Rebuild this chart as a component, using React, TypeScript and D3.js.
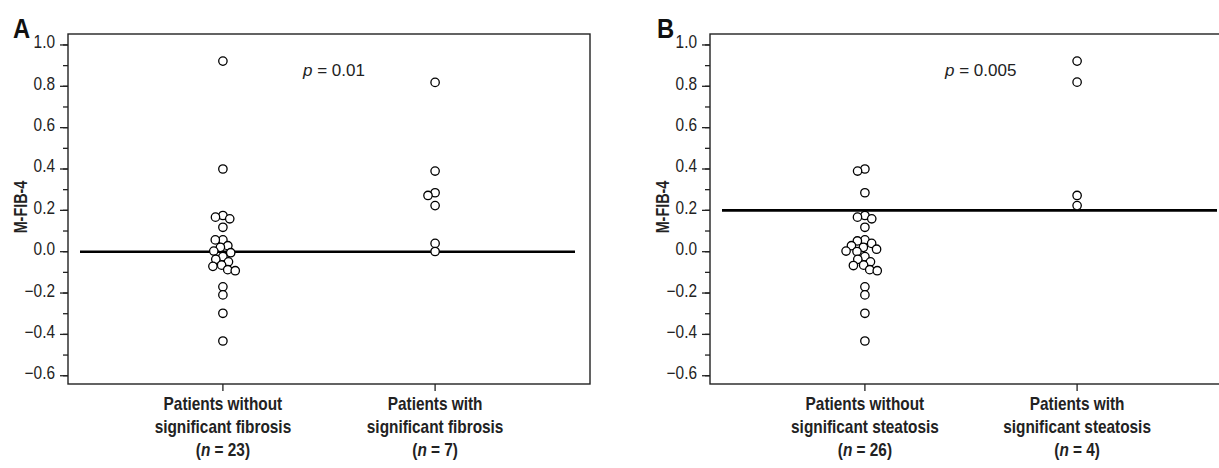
import React, { useRef, useEffect } from "react";
import * as d3 from "d3";

// values
const fibrosisWithout = [
  0.922, 0.4, 0.175, 0.167, 0.159, 0.118, 0.057, 0.057, 0.029, 0.021, 0.003,
  -0.005, -0.024, -0.037, -0.049, -0.065, -0.071, -0.087, -0.092, -0.17, -0.209,
  -0.298, -0.432,
];
const fibrosisWith = [0.819, 0.39, 0.285, 0.272, 0.223, 0.04, 0.001];
const steatosisWithout = [
  0.4, 0.39, 0.285, 0.175, 0.167, 0.159, 0.118, 0.057, 0.052, 0.04, 0.029,
  0.021, 0.012, 0.003, 0.001, -0.024, -0.037, -0.049, -0.065, -0.067, -0.087,
  -0.092, -0.17, -0.209, -0.298, -0.432,
];
const steatosisWith = [0.922, 0.82, 0.272, 0.223];

const panelLetters = ["A", "B"];
const groupLabels = [
  [["Patients without", "significant fibrosis"], ["Patients with", "significant fibrosis"]],
  [["Patients without", "significant steatosis"], ["Patients with", "significant steatosis"]],
];
const groupN = [[23, 7], [26, 4]];
const pValues = ["0.01", "0.005"];
const cutoffs = [0, 0.2];
const yTitle = "M-FIB-4";

// Liberation Sans squeezed a little to look like a condensed face
const FONT = "'Liberation Sans', Arial, sans-serif";
const SQ = 0.88;

// simple beeswarm: place each point as near the centre as possible
const dodge = (ys: number[], sep: number) => {
  const placed: { x: number; y: number }[] = [];
  ys.forEach((y) => {
    const cands = [0];
    placed.forEach((p) => {
      const dy = Math.abs(p.y - y);
      if (dy < sep) {
        const dx = Math.sqrt(sep * sep - dy * dy);
        cands.push(p.x - dx, p.x + dx);
      }
    });
    cands.sort((a, b) => Math.abs(a) - Math.abs(b) || a - b);
    const x = cands.find((c) =>
      placed.every((p) => (p.x - c) ** 2 + (p.y - y) ** 2 >= sep * sep - 0.01)
    ) ?? 0;
    placed.push({ x, y });
  });
  return placed;
};

const App = () => {
  const d3Ref = useRef<HTMLDivElement>(null);

  useEffect(() => {
    if (!d3Ref.current) return;
    d3.select(d3Ref.current).selectAll("*").remove();

    const width = 1219;
    const height = 468;
    const top = 34;
    const bottom = 384;
    const panelW = 522;
    const lefts = [68, 710];
    const groups = [
      [fibrosisWithout, fibrosisWith],
      [steatosisWithout, steatosisWith],
    ];

    const svg = d3
      .select(d3Ref.current)
      .append("svg")
      .attr("width", width)
      .attr("height", height)
      .style("display", "block")
      .style("position", "absolute")
      .style("left", 0)
      .style("top", 0)
      .style("background", "#fff");

    const y = d3.scaleLinear().domain([-0.64, 1.053]).range([bottom, top]);

    lefts.forEach((left, pi) => {
      const g = svg.append("g").attr("transform", `translate(${left},0)`);
      const x = d3
        .scalePoint<number>()
        .domain([0, 1])
        .range([0, panelW])
        .padding(0.73);

      // frame
      g.append("rect")
        .attr("x", 0)
        .attr("y", top)
        .attr("width", panelW)
        .attr("height", bottom - top)
        .attr("fill", "none")
        .attr("stroke", "#222")
        .attr("stroke-width", 1.4);

      // y ticks
      g.selectAll(".minor")
        .data(y.ticks(16))
        .enter()
        .append("line")
        .attr("x1", -5)
        .attr("x2", 0)
        .attr("y1", (d) => y(d))
        .attr("y2", (d) => y(d))
        .attr("stroke", "#222")
        .attr("stroke-width", 1.3);
      g.selectAll(".major")
        .data(y.ticks(8))
        .enter()
        .append("line")
        .attr("x1", -8)
        .attr("x2", 0)
        .attr("y1", (d) => y(d))
        .attr("y2", (d) => y(d))
        .attr("stroke", "#222")
        .attr("stroke-width", 1.3);
      g.selectAll(".ylab")
        .data(y.ticks(8))
        .enter()
        .append("text")
        .attr("transform", (d) => `translate(-13,${y(d) + 3.5}) scale(${SQ},1)`)
        .attr("text-anchor", "end")
        .attr("font-family", FONT)
        .attr("font-size", 17.5)
        .attr("fill", "#222")
        .text((d) => d3.format(".1f")(d));

      // y title
      g.append("text")
        .attr("transform", `translate(-41,207) rotate(-90) scale(0.8,1)`)
        .attr("text-anchor", "middle")
        .attr("font-family", FONT)
        .attr("font-weight", "bold")
        .attr("font-size", 18)
        .attr("fill", "#222")
        .text(yTitle);

      // panel letter
      g.append("text")
        .attr("transform", `translate(${pi === 0 ? -55 : -53},38) scale(${SQ},1)`)
        .attr("font-family", FONT)
        .attr("font-weight", "bold")
        .attr("font-size", 27)
        .attr("fill", "#111")
        .text(panelLetters[pi]);

      // x ticks + labels
      [0, 1].forEach((ci) => {
        const cx = x(ci) as number;
        g.append("line")
          .attr("x1", cx)
          .attr("x2", cx)
          .attr("y1", bottom)
          .attr("y2", bottom + 7)
          .attr("stroke", "#222")
          .attr("stroke-width", 1.3);
        const t = g
          .append("text")
          .attr("transform", `translate(${cx},0) scale(0.845,1)`)
          .attr("text-anchor", "middle")
          .attr("font-family", FONT)
          .attr("font-weight", "bold")
          .attr("font-size", 18.2)
          .attr("fill", "#222");
        groupLabels[pi][ci].forEach((line, li) => {
          t.append("tspan").attr("x", 0).attr("y", 410 + li * 23).text(line);
        });
        const last = t.append("tspan").attr("x", 0).attr("y", 456).text("(");
        last.append("tspan").attr("font-style", "italic").text("n");
        t.append("tspan").text(` = ${groupN[pi][ci]})`);
      });

      // cutoff line
      g.append("line")
        .attr("x1", 12)
        .attr("x2", panelW - 15)
        .attr("y1", y(cutoffs[pi]))
        .attr("y2", y(cutoffs[pi]))
        .attr("stroke", "#000")
        .attr("stroke-width", 2.6);

      // p value
      const pt = g
        .append("text")
        .attr("x", 235)
        .attr("y", 76)
        .attr("font-family", FONT)
        .attr("font-size", 17)
        .attr("fill", "#222");
      pt.append("tspan").attr("font-style", "italic").text("p");
      pt.append("tspan").text(` = ${pValues[pi]}`);

      // points
      groups[pi].forEach((vals, ci) => {
        const cx = x(ci) as number;
        const pos = dodge(
          vals.map((v) => y(v)),
          7.6
        );
        g.selectAll(`.pt${ci}`)
          .data(pos)
          .enter()
          .append("circle")
          .attr("cx", (d) => cx + d.x)
          .attr("cy", (d) => d.y)
          .attr("r", 4.2)
          .attr("fill", "#fff")
          .attr("stroke", "#000")
          .attr("stroke-width", 1.3);
      });
    });
  }, []);

  return <div ref={d3Ref} />;
};

export default App;
